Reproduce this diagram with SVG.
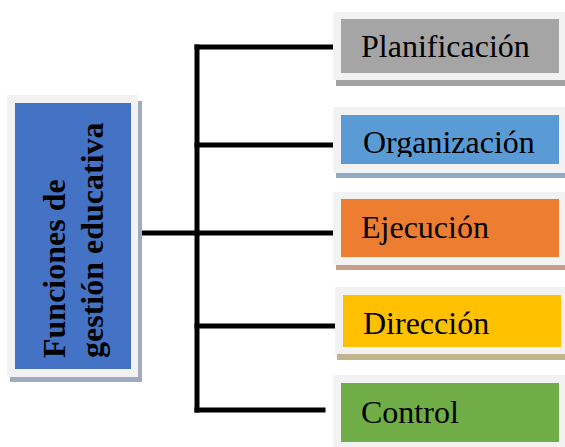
<svg xmlns="http://www.w3.org/2000/svg" width="565" height="447" viewBox="0 0 565 447">
<style>
.frame{fill:#f2f2f2}
.lbl{font-family:"Liberation Serif","Times New Roman",serif;font-size:32px;fill:#000}
.main{font-family:"Liberation Serif","Times New Roman",serif;font-size:32px;font-weight:bold;fill:#000}
.conn{stroke:#000;stroke-width:5;fill:none;stroke-linecap:square}
</style>
<defs>
<clipPath id="clipOrg"><rect x="341" y="115" width="218" height="42"/></clipPath>
</defs>
<rect width="565" height="447" fill="#fff"/>
<g id="connectors">
<line class="conn" x1="197" y1="47" x2="197" y2="410"/>
<line class="conn" x1="139" y1="233" x2="197" y2="233"/>
<line class="conn" x1="197" y1="47" x2="339" y2="47"/>
<line class="conn" x1="197" y1="145" x2="339" y2="145"/>
<line class="conn" x1="197" y1="233" x2="339" y2="233"/>
<line class="conn" x1="197" y1="326" x2="341" y2="326"/>
<line class="conn" x1="197" y1="410" x2="323" y2="410"/>
</g>
<g id="node-main">
<rect x="10" y="101" width="132" height="281" fill="#a1a9c1"/>
<rect class="frame" x="7" y="95" width="131" height="282"/>
<rect x="15" y="103" width="116" height="266" fill="#4472c4"/>
<text class="main" transform="translate(65,358) rotate(-90)">Funciones de</text>
<text class="main" transform="translate(103,358) rotate(-90)">gestión educativa</text>
</g>
<g id="node-planificacion">
<rect x="336" y="18" width="232" height="68" fill="#a3a3a3"/>
<rect class="frame" x="333" y="12" width="235" height="68"/>
<rect x="341" y="19" width="218" height="54" fill="#a5a5a5"/>
<text class="lbl" x="361" y="57">Planificación</text>
</g>
<g id="node-organizacion">
<rect x="336" y="112" width="232" height="66" fill="#8fa9c9"/>
<rect class="frame" x="333" y="107" width="235" height="66"/>
<rect x="341" y="115" width="218" height="49" fill="#5b9bd5"/>
<text class="lbl" x="363" y="153" clip-path="url(#clipOrg)">Organización</text>
</g>
<g id="node-ejecucion">
<rect x="336" y="198" width="232" height="72" fill="#c49d8b"/>
<rect class="frame" x="333" y="192" width="235" height="73"/>
<rect x="341" y="199" width="218" height="58" fill="#ed7d31"/>
<text class="lbl" x="361" y="238">Ejecución</text>
</g>
<g id="node-direccion">
<rect x="337" y="293" width="232" height="67" fill="#c2b48d"/>
<rect class="frame" x="335" y="287" width="233" height="67"/>
<rect x="343" y="295" width="218" height="52" fill="#ffc000"/>
<text class="lbl" x="363" y="334">Dirección</text>
</g>
<g id="node-control">
<rect class="frame" x="333" y="375" width="235" height="75"/>
<rect x="341" y="383" width="218" height="59" fill="#70ad47"/>
<text class="lbl" x="361" y="423">Control</text>
</g>
</svg>
